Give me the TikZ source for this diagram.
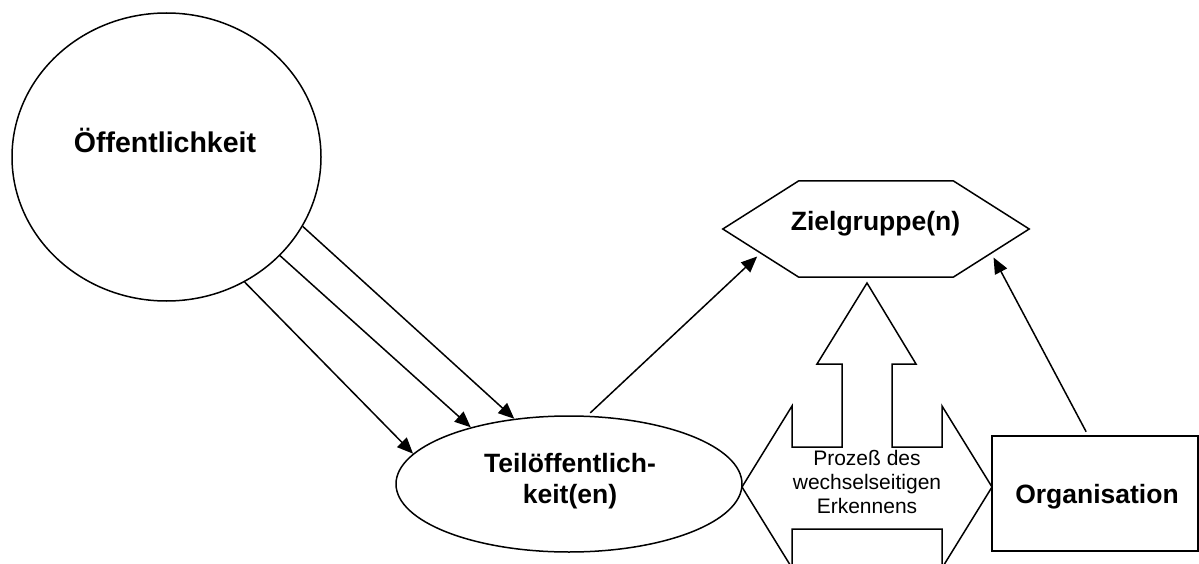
\documentclass[tikz,border=0pt]{standalone}
\usepackage{fontspec}
\setmainfont{Liberation Sans}
\usetikzlibrary{arrows.meta,calc,shapes.geometric}

\begin{document}
\begin{tikzpicture}[x=1pt,y=-1pt,
  outline/.style={draw=black,line width=1.5pt},
  conn/.style={draw=black,line width=1.5pt,-{Triangle[length=16pt,width=13.5pt]}},
  bigtext/.style={font=\fontsize{26.5}{31}\selectfont\bfseries,align=center,inner sep=0pt},
  smalltext/.style={font=\fontsize{21}{24}\selectfont,align=center,inner sep=0pt}]
\clip (0,0) rectangle (1199,564);
\fill[white] (0,0) rectangle (1199,564);

% Öffentlichkeit
\node[outline,ellipse,minimum width=309pt,minimum height=288pt,inner sep=0pt] (oeff) at (166.5,157) {};
\node[bigtext,font=\fontsize{28.5}{33}\selectfont\bfseries,anchor=base] (oefftext) at (165,153) {Öffentlichkeit};

% Teilöffentlichkeit(en)
\node[outline,ellipse,minimum width=346pt,minimum height=136pt,inner sep=0pt] (teil) at (569,484) {};
\node[bigtext] (teiltext) at (570,481) {Teilöffentlich-\\keit(en)};

% Zielgruppe(n): elongated hexagon
\node[minimum width=306pt,minimum height=96pt,inner sep=0pt] (ziel) at (876,229) {};
\coordinate (znw) at ($(ziel.north west)+(76,0)$);
\coordinate (zne) at ($(ziel.north east)+(-76,0)$);
\coordinate (zsw) at ($(ziel.south west)+(76,0)$);
\coordinate (zse) at ($(ziel.south east)+(-76,0)$);
\draw[outline,line join=miter] (ziel.west) -- (znw) -- (zne) -- (ziel.east) -- (zse) -- (zsw) -- cycle;
\node[bigtext,anchor=base] (zieltext) at (875.5,230.5) {Zielgruppe(n)};
\coordinate (zl) at ($(ziel.west)!0.5!(zsw)$);
\coordinate (zr) at ($(ziel.east)!0.5!(zse)$);

% Organisation
\node[outline,rectangle,minimum width=206pt,minimum height=115pt,inner sep=0pt] (org) at (1095,493.5) {};
\node[bigtext,anchor=base] (orgtext) at (1097,503) {Organisation};

% Process arrow: left-right arrow with an upward branch
\draw[outline,line join=miter]
  (742,487) -- (792,406) -- (792,447) -- (842,447) -- (842,364) -- (817,364)
  -- (867,283) -- (916,364) -- (892,364) -- (892,447) -- (942,447) -- (942,406)
  -- (992,487) -- (942,568) -- (942,529) -- (792,529) -- (792,568) -- cycle;
\node[smalltext] (proc) at (867,481.5) {Prozeß des\\wechselseitigen\\Erkennens};

% Connectors
\draw[conn] (oeff.-58.7) -- (teil.169);
\draw[conn] (oeff.-41.4) -- (teil.150.9);
\draw[conn] (oeff.-27) -- (teil.130.5);
\draw[conn,shorten <=4pt,shorten >=5pt] (teil.75) -- (zl);
\draw[conn,shorten <=4pt,shorten >=5pt] ($(org.north)+(-7,0)$) -- (zr);
\end{tikzpicture}
\end{document}
